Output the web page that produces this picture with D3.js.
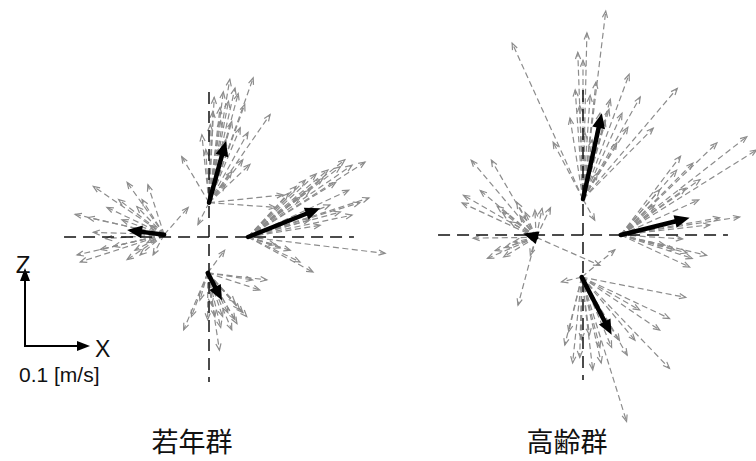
<!DOCTYPE html>
<html>
<head>
<meta charset="utf-8">
<script src="https://cdn.jsdelivr.net/npm/d3@7"></script>
<style>
  html, body { margin: 0; padding: 0; background: #fff; }
  svg { display: block; }
</style>
</head>
<body>
<svg id="chart" width="756" height="461"></svg>
<script>
// Group labels
const groupLabels = ["若年群", "高齢群"];

// Velocity units: m/s.  Each sensor origin is offset from the panel centre.
const youngOrigins   = [[0, 0.044], [-0.069, 0.003], [0.060, 0], [-0.002, -0.046]];
const elderlyOrigins = [[0, 0.046], [-0.072, -0.003], [0.058, 0], [-0.002, -0.054]];

// Mean velocity vectors [dx, dz] for the four sensors (top, left, right, bottom)
const youngMeans   = [[0.026, 0.079], [-0.057, 0.006], [0.111, 0.037], [0.022, -0.035]];
const elderlyMeans = [[0.029, 0.110], [-0.020, 0.005], [0.106, 0.022], [0.046, -0.074]];

// Individual trial vectors [dx, dz], young group
const youngTop = [
  [0.032, 0.158], [0.068, 0.160], [0.040, 0.147], [0.022, 0.142], [0.055, 0.126],
  [0.017, 0.122], [0.006, 0.117], [0.094, 0.113], [0.035, 0.104], [0.048, 0.096],
  [0.002, 0.100], [-0.011, 0.087], [-0.042, 0.059], [0.063, 0.049], [0.052, 0.055],
  [0.035, 0.040], [0.025, 0.023], [0.114, 0.010], [0.102, -0.006], [-0.017, -0.028],
  [0.026, 0.081], [0.014, 0.068], [-0.005, 0.068], [0.030, 0.130], [0.045, 0.140],
  [0.018, 0.105], [0.008, 0.135], [0.060, 0.090]
];
const youngLeft = [
  [-0.109, 0.062], [-0.057, 0.067], [-0.025, 0.064], [-0.088, 0.035], [-0.137, 0.026],
  [-0.117, 0.022], [-0.065, 0.019], [-0.042, 0.036], [-0.034, 0.045], [0.037, 0.035],
  [-0.109, 0.003], [-0.134, -0.026], [-0.129, -0.035], [-0.098, -0.019], [-0.057, -0.032],
  [-0.037, -0.026], [-0.026, -0.010], [-0.078, -0.015], [-0.022, 0.012], [-0.052, 0.006],
  [-0.017, -0.026], [-0.070, 0.045], [-0.090, -0.005], [-0.045, -0.020]
];
const youngRight = [
  [0.180, 0.096], [0.160, 0.092], [0.142, 0.090], [0.123, 0.086], [0.105, 0.081],
  [0.088, 0.073], [0.074, 0.065], [0.062, 0.056], [0.186, 0.050], [0.172, 0.044],
  [0.160, 0.028], [0.142, 0.032], [0.126, 0.041], [0.211, -0.021], [0.100, -0.045],
  [0.080, -0.032], [0.065, -0.017], [0.049, -0.014], [0.111, 0.015], [0.095, 0.022],
  [0.080, 0.051], [0.149, 0.099], [0.042, -0.010], [0.115, 0.075], [0.135, 0.070],
  [0.095, 0.060], [0.155, 0.060]
];
const youngBottom = [
  [0.091, -0.009], [0.080, -0.022], [0.060, -0.056], [0.042, -0.060], [0.037, -0.073],
  [0.023, -0.056], [0.018, -0.099], [-0.037, -0.073], [-0.025, -0.056], [0.011, -0.056],
  [0.026, 0.029], [0.042, -0.038], [0.031, -0.051], [0.049, -0.047], [0.054, -0.051],
  [0.006, -0.041], [-0.012, -0.035], [0.069, -0.009], [0.020, -0.070], [0.045, -0.065],
  [0.000, -0.060]
];

// Individual trial vectors [dx, dz], elderly group
const elderlyTop = [
  [0.035, 0.241], [0.006, 0.213], [-0.008, 0.188], [-0.109, 0.200], [0.071, 0.160],
  [0.088, 0.131], [0.145, 0.142], [-0.020, 0.104], [-0.046, 0.073], [0.042, 0.128],
  [0.069, 0.092], [0.026, 0.110], [0.003, 0.085], [0.014, 0.076], [0.000, 0.178],
  [0.022, 0.033], [0.052, 0.072], [0.108, 0.091], [0.018, -0.027], [-0.012, 0.140],
  [0.011, 0.133], [0.034, 0.101], [0.020, 0.150], [0.040, 0.115], [-0.005, 0.120],
  [0.060, 0.110]
];
const elderlyLeft = [
  [-0.100, 0.099], [-0.069, 0.099], [-0.114, 0.044], [-0.112, 0.054], [-0.086, 0.060],
  [-0.052, 0.032], [-0.002, 0.035], [0.022, 0.038], [-0.017, 0.032], [0.009, 0.037],
  [-0.075, -0.027], [-0.028, -0.087], [-0.048, -0.013], [-0.097, -0.001], [-0.035, -0.006],
  [0.098, -0.036], [-0.025, 0.028], [-0.063, -0.017], [-0.009, -0.023], [-0.040, 0.020],
  [-0.060, 0.040], [-0.050, -0.025], [-0.030, 0.045]
];
const elderlyRight = [
  [0.194, 0.126], [0.209, 0.109], [0.148, 0.118], [0.092, 0.101], [0.111, 0.092],
  [0.086, 0.083], [0.183, 0.023], [0.152, 0.022], [0.132, -0.026], [0.106, -0.041],
  [0.102, -0.023], [0.083, -0.019], [0.060, 0.058], [0.122, 0.071], [0.137, 0.013],
  [0.068, -0.013], [0.052, 0.038], [0.100, 0.060], [0.120, 0.045], [0.095, -0.005],
  [0.110, -0.030]
];
const elderlyBottom = [
  [0.160, -0.026], [0.135, -0.053], [0.135, -0.117], [0.069, -0.185], [0.051, 0.035],
  [-0.031, -0.006], [0.082, -0.081], [0.046, -0.090], [0.017, -0.119], [-0.014, -0.110],
  [-0.003, -0.103], [0.028, -0.090], [0.058, -0.081], [-0.026, -0.087], [0.012, -0.074],
  [0.089, -0.042], [0.120, -0.068], [0.000, -0.080], [0.030, -0.110], [0.070, -0.100],
  [-0.020, -0.070]
];

// Reference arrow length and crosshair half-extent (m/s)
const scaleRef = 0.1;
const crossHalfX = 0.223;
const crossHalfZ = 0.186;

const panels = [
  { label: groupLabels[0], cx: 209, cy: 237, labelX: 192, origins: youngOrigins, means: youngMeans,
    trials: [youngTop, youngLeft, youngRight, youngBottom] },
  { label: groupLabels[1], cx: 583, cy: 235, labelX: 567, origins: elderlyOrigins, means: elderlyMeans,
    trials: [elderlyTop, elderlyLeft, elderlyRight, elderlyBottom] }
];

const PX_X = 65, PX_Z = 78; // pixels per 0.1 m/s

const svg = d3.select("#chart");
const latin = "'Liberation Sans', Arial, sans-serif";
const cjk = "'Noto Sans CJK JP', 'Noto Sans CJK SC', sans-serif";

// Open V-shaped arrowhead at (x2,y2) pointing along (x1,y1)->(x2,y2)
function openHead(x1, y1, x2, y2, len, spread) {
  const a = Math.atan2(y2 - y1, x2 - x1);
  const p1 = [x2 - len * Math.cos(a - spread), y2 - len * Math.sin(a - spread)];
  const p2 = [x2 - len * Math.cos(a + spread), y2 - len * Math.sin(a + spread)];
  return `M${p1[0]},${p1[1]}L${x2},${y2}L${p2[0]},${p2[1]}`;
}
// Filled triangular arrowhead
function solidHead(x1, y1, x2, y2, len, half) {
  const a = Math.atan2(y2 - y1, x2 - x1);
  const bx = x2 - len * Math.cos(a), by = y2 - len * Math.sin(a);
  const nx = -Math.sin(a) * half, ny = Math.cos(a) * half;
  return `M${x2},${y2}L${bx + nx},${by + ny}L${bx - nx},${by - ny}Z`;
}

panels.forEach(p => {
  const x = d3.scaleLinear().domain([0, scaleRef]).range([p.cx, p.cx + PX_X]);
  const z = d3.scaleLinear().domain([0, scaleRef]).range([p.cy, p.cy - PX_Z]);
  const g = svg.append("g");

  // grey dashed trial vectors
  const gTrials = g.append("g");
  p.trials.forEach((list, i) => {
    const o = p.origins[i];
    list.forEach(v => {
      const x1 = x(o[0]), y1 = z(o[1]);
      const x2 = x(o[0] + v[0]), y2 = z(o[1] + v[1]);
      gTrials.append("line")
        .attr("x1", x1).attr("y1", y1).attr("x2", x2).attr("y2", y2)
        .attr("stroke", "#8c8c8c").attr("stroke-width", 1.2)
        .attr("stroke-dasharray", "6,3.5");
      gTrials.append("path")
        .attr("d", openHead(x1, y1, x2, y2, 7, 0.38))
        .attr("fill", "none").attr("stroke", "#8c8c8c").attr("stroke-width", 1.2);
    });
  });

  // dashed crosshair
  g.append("line")
    .attr("x1", x(-crossHalfX)).attr("x2", x(crossHalfX))
    .attr("y1", z(0)).attr("y2", z(0))
    .attr("stroke", "#111").attr("stroke-width", 1.5).attr("stroke-dasharray", "12,7");
  g.append("line")
    .attr("x1", x(0)).attr("x2", x(0))
    .attr("y1", z(crossHalfZ)).attr("y2", z(-crossHalfZ))
    .attr("stroke", "#111").attr("stroke-width", 1.5).attr("stroke-dasharray", "12,7");

  // bold mean vectors
  p.means.forEach((m, i) => {
    const o = p.origins[i];
    const x1 = x(o[0]), y1 = z(o[1]);
    const x2 = x(o[0] + m[0]), y2 = z(o[1] + m[1]);
    const a = Math.atan2(y2 - y1, x2 - x1);
    const headLen = 15;
    g.append("line")
      .attr("x1", x1).attr("y1", y1)
      .attr("x2", x2 - (headLen - 2) * Math.cos(a)).attr("y2", y2 - (headLen - 2) * Math.sin(a))
      .attr("stroke", "#000").attr("stroke-width", 4.5).attr("stroke-linecap", "round");
    g.append("path").attr("d", solidHead(x1, y1, x2, y2, headLen, 6.5)).attr("fill", "#000");
  });

  g.append("text")
    .attr("x", p.labelX).attr("y", 452)
    .attr("text-anchor", "middle")
    .attr("font-family", cjk).attr("font-size", 27)
    .attr("fill", "#111")
    .text(p.label);
});

// Scale legend: 0.1 m/s along X and Z
const lx = d3.scaleLinear().domain([0, scaleRef]).range([25, 25 + PX_X]);
const lz = d3.scaleLinear().domain([0, scaleRef]).range([346, 346 - PX_Z]);
const leg = svg.append("g");
leg.append("path")
  .attr("d", `M${lx(0)},${lz(scaleRef) + 10}L${lx(0)},${lz(0)}L${lx(scaleRef) - 10},${lz(0)}`)
  .attr("fill", "none").attr("stroke", "#000").attr("stroke-width", 2);
leg.append("path").attr("d", solidHead(lx(0), lz(0), lx(0), lz(scaleRef), 13, 5)).attr("fill", "#000");
leg.append("path").attr("d", solidHead(lx(0), lz(0), lx(scaleRef), lz(0), 13, 5)).attr("fill", "#000");
leg.append("text").attr("x", 23).attr("y", 273).attr("text-anchor", "middle")
  .attr("font-family", latin).attr("font-size", 24).attr("fill", "#111").text("Z");
leg.append("text").attr("x", 95).attr("y", 357)
  .attr("font-family", latin).attr("font-size", 23).attr("fill", "#111").text("X");
leg.append("text").attr("x", 19).attr("y", 382)
  .attr("font-family", latin).attr("font-size", 21).attr("fill", "#111").text("0.1 [m/s]");
</script>
</body>
</html>
